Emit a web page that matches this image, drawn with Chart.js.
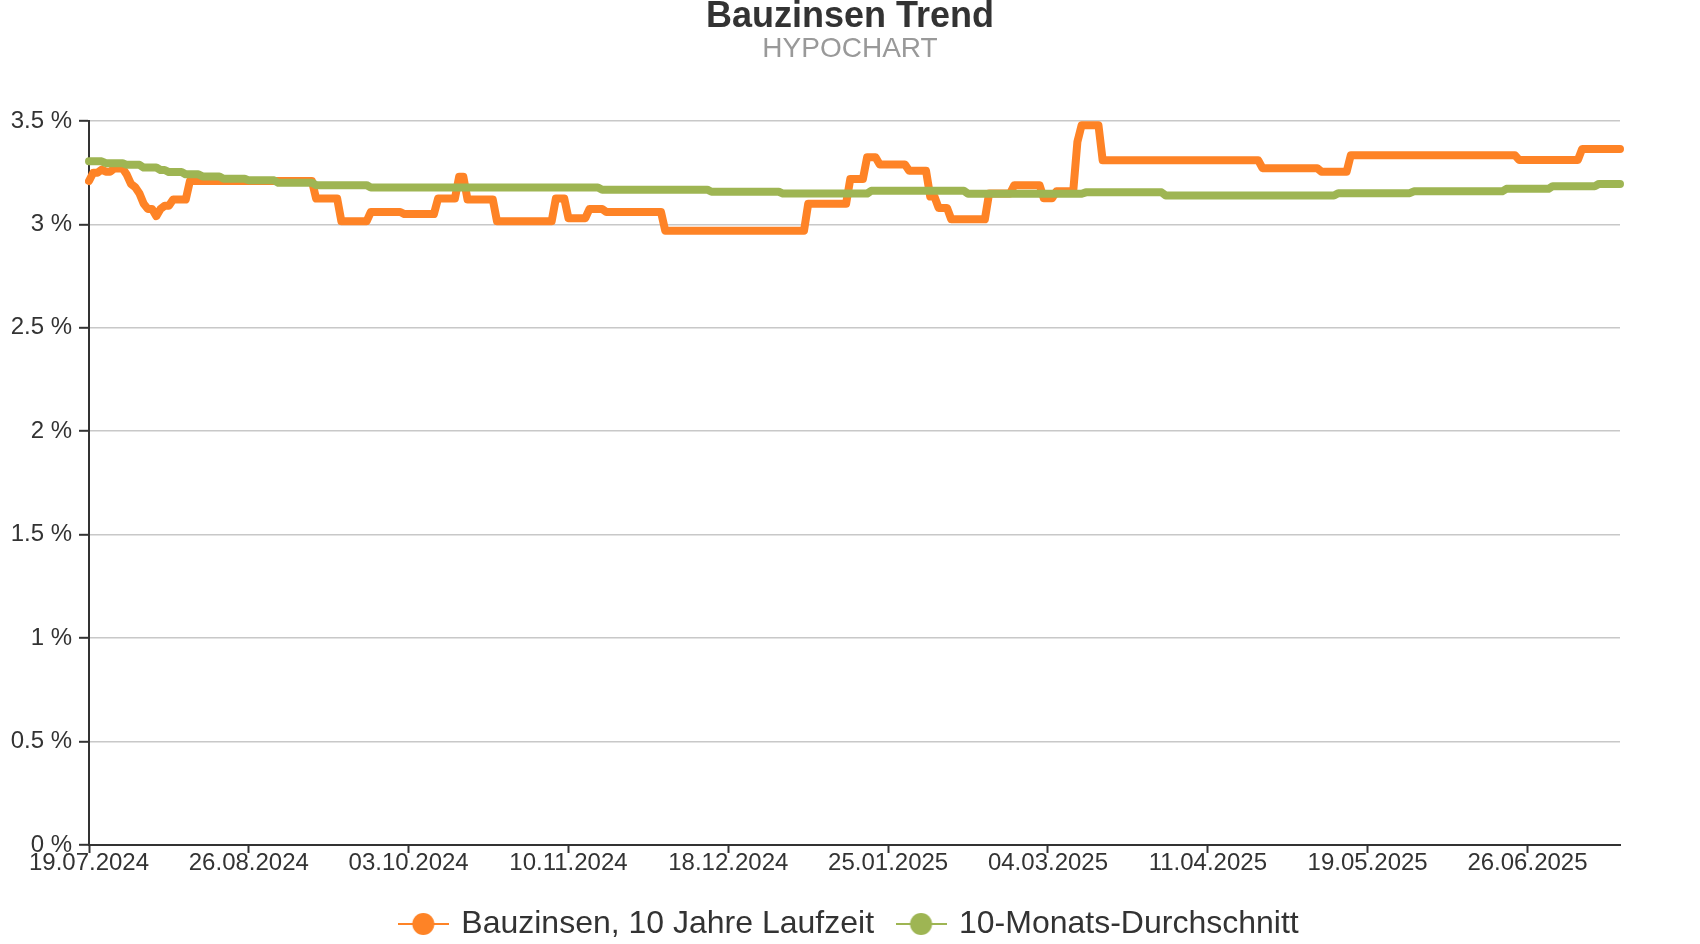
<!DOCTYPE html>
<html lang="de">
<head>
<meta charset="utf-8">
<title>Bauzinsen Trend</title>
<script src="https://cdn.jsdelivr.net/npm/chart.js@4.4.1/dist/chart.umd.min.js"></script>
<style>
    html, body { margin: 0; padding: 0; background: #fff; }
    #chartBox { width: 1700px; height: 944px; }
</style>
</head>
<body>
<div id="chartBox"><canvas id="trendChart"></canvas></div>
<script>
// Daily series, 19.07.2024 - 18.07.2025, stored as runs: value + number of days it holds
const startDate = [2024, 7, 19];

// Bauzinsen, 10 Jahre Laufzeit (%)
const rateValues = [3.21, 3.25, 3.265, 3.255, 3.27, 3.24, 3.195, 3.18, 3.15, 3.10,
    3.075, 3.04, 3.075, 3.09, 3.12, 3.21, 3.125, 3.015, 3.06, 3.05,
    3.125, 3.23, 3.12, 3.015, 3.125, 3.03, 3.075, 3.06, 2.97, 3.10,
    3.22, 3.325, 3.29, 3.26, 3.135, 3.08, 3.025, 3.15, 3.19, 3.127,
    3.16, 3.40, 3.48, 3.31, 3.272, 3.255, 3.335, 3.312, 3.365];
const rateDays = [1, 2, 1, 2, 3, 1, 1, 1, 1, 1,
    2, 1, 1, 2, 4, 30, 6, 7, 8, 8,
    5, 2, 7, 14, 3, 5, 4, 14, 34, 10,
    4, 3, 7, 5, 2, 3, 9, 6, 7, 3,
    5, 1, 5, 38, 14, 7, 40, 15, 10];

// 10-Monats-Durchschnitt (%)
const avgValues = [3.305, 3.296, 3.288, 3.275, 3.263, 3.253, 3.242, 3.232, 3.221, 3.213,
    3.201, 3.190, 3.179, 3.168, 3.158, 3.149, 3.163, 3.148, 3.155, 3.140,
    3.151, 3.160, 3.172, 3.185, 3.196];
const avgDays = [4, 5, 4, 4, 2, 4, 4, 5, 6, 7,
    9, 13, 55, 26, 17, 21, 23, 28, 19, 41,
    18, 22, 11, 11, 6];

const tickDates = ['19.07.2024', '26.08.2024', '03.10.2024', '10.11.2024', '18.12.2024',
    '25.01.2025', '04.03.2025', '11.04.2025', '19.05.2025', '26.06.2025'];
const yTicks = [0, 0.5, 1, 1.5, 2, 2.5, 3, 3.5];

const seriesNames = ['Bauzinsen, 10 Jahre Laufzeit', '10-Monats-Durchschnitt'];
const seriesColors = ['#fe8326', '#9eb553'];

function expandRuns(values, days) {
    const out = [];
    values.forEach((v, i) => {
        for (let k = 0; k < days[i]; k++) out.push(v);
    });
    return out;
}

function pad2(n) { return String(n).padStart(2, '0'); }

const rateData = expandRuns(rateValues, rateDays);
const avgData = expandRuns(avgValues, avgDays);

// one category per calendar day
const dayLabels = rateData.map((_, i) => {
    const d = new Date(startDate[0], startDate[1] - 1, startDate[2] + i);
    return pad2(d.getDate()) + '.' + pad2(d.getMonth() + 1) + '.' + d.getFullYear();
});

// legend symbol: short line with a dot in the middle
function legendSymbol(color) {
    const c = document.createElement('canvas');
    c.width = 51;
    c.height = 24;
    const g = c.getContext('2d');
    g.strokeStyle = color;
    g.lineWidth = 2;
    g.beginPath();
    g.moveTo(0, 12);
    g.lineTo(51, 12);
    g.stroke();
    g.fillStyle = color;
    g.beginPath();
    g.arc(25.5, 12, 11, 0, Math.PI * 2);
    g.fill();
    return c;
}

Chart.defaults.font.family = "'Liberation Sans', Arial, sans-serif";
Chart.defaults.color = '#333';

const lineStyle = {
    borderWidth: 8,
    borderCapStyle: 'round',
    borderJoinStyle: 'round',
    pointRadius: 0,
    pointHoverRadius: 0,
    tension: 0,
    fill: false
};

const config = {
    type: 'line',
    data: {
        labels: dayLabels,
        datasets: [{
            ...lineStyle,
            label: seriesNames[0],
            data: rateData,
            borderColor: seriesColors[0],
            backgroundColor: seriesColors[0],
            yAxisID: 'y',
            order: 1
        }, {
            ...lineStyle,
            label: seriesNames[1],
            data: avgData,
            borderColor: seriesColors[1],
            backgroundColor: seriesColors[1],
            yAxisID: 'y',
            order: 0
        }]
    },
    options: {
        responsive: true,
        maintainAspectRatio: false,
        animation: false,
        layout: {
            padding: { top: 0, right: 0, bottom: -6, left: 0 }
        },
        plugins: {
            title: {
                display: true,
                text: 'Bauzinsen Trend',
                color: '#333',
                font: { size: 36, weight: 'bold', lineHeight: 0.8 },
                padding: { top: 2.5, bottom: 4.3 }
            },
            subtitle: {
                display: true,
                text: 'HYPOCHART',
                color: '#999',
                font: { size: 28, weight: 'normal', lineHeight: 1 },
                padding: { top: 0, bottom: 57.4 }
            },
            legend: {
                position: 'bottom',
                labels: {
                    usePointStyle: true,
                    pointStyleWidth: 44,
                    padding: 25,
                    color: '#333',
                    font: { size: 32 },
                    generateLabels: () => seriesNames.map((name, i) => ({
                        text: name,
                        pointStyle: legendSymbol(seriesColors[i]),
                        fillStyle: seriesColors[i],
                        strokeStyle: seriesColors[i],
                        fontColor: '#333',
                        lineWidth: 0,
                        hidden: false,
                        datasetIndex: i
                    }))
                }
            },
            tooltip: { enabled: false }
        },
        scales: {
            x: {
                type: 'category',
                offset: false,
                afterFit: (scale) => { scale.height = 38; },
                border: { display: true, color: '#333', width: 2 },
                grid: {
                    drawOnChartArea: false,
                    drawTicks: true,
                    tickLength: 8,
                    tickWidth: 2,
                    tickColor: (ctx) => tickDates.includes(dayLabels[ctx.index]) ? '#333' : 'rgba(0,0,0,0)'
                },
                ticks: {
                    autoSkip: false,
                    maxRotation: 0,
                    minRotation: 0,
                    padding: -2,
                    color: '#333',
                    font: { size: 24, lineHeight: 1 },
                    callback: (value, index) => tickDates.includes(dayLabels[index]) ? dayLabels[index] : ''
                }
            },
            y: {
                position: 'left',
                min: yTicks[0],
                max: yTicks[yTicks.length - 1],
                afterFit: (scale) => { scale.width = 89; },
                border: { display: true, color: '#333', width: 2 },
                grid: {
                    color: '#c8c8c8',
                    lineWidth: 1.6,
                    drawTicks: true,
                    tickLength: 10,
                    tickWidth: 2,
                    tickColor: '#333'
                },
                afterBuildTicks: (scale) => { scale.ticks = yTicks.map(v => ({ value: v })); },
                ticks: {
                    padding: 7,
                    color: '#333',
                    font: { size: 24 },
                    callback: (value) => value + ' %'
                }
            },
            // empty right-hand axis, only keeps the right margin of the plot
            yRight: {
                position: 'right',
                display: true,
                afterFit: (scale) => { scale.width = 80; },
                border: { display: false },
                grid: { display: false, drawTicks: false },
                ticks: { display: false }
            }
        }
    }
};

new Chart(document.getElementById('trendChart'), config);
</script>
</body>
</html>
